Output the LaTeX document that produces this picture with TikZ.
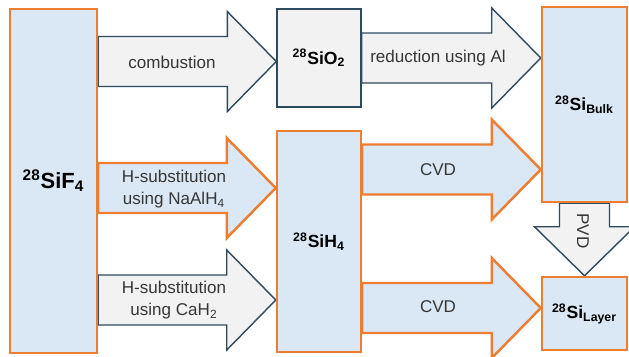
\documentclass[tikz,border=0pt]{standalone}
\usepackage{fontspec}
\setmainfont{Liberation Sans}
\setsansfont{Liberation Sans}
\usetikzlibrary{calc, backgrounds}
\definecolor{cblue}{HTML}{DAE8F5}
\definecolor{corange}{HTML}{ED7D31}
\definecolor{cgrey}{HTML}{F2F2F2}
\definecolor{cslate}{HTML}{2F4A5C}
\definecolor{ctext}{HTML}{363636}
\tikzset{
  every picture/.style={font=\sffamily},
  box/.style={draw=corange, fill=cblue, line width=1.4pt, inner sep=0pt, font=\sffamily\bfseries\fontsize{10}{12}\selectfont},
  greybox/.style={box, draw=cslate, fill=cgrey, line width=0.8pt},
  flow/.style={draw=corange, fill=cblue, line width=1.4pt, line join=miter},
  greyflow/.style={draw=cslate, fill=cgrey, line width=0.8pt, line join=miter},
  note/.style={font=\sffamily\fontsize{9.7}{12.5}\selectfont, text=ctext, align=center},
}
% block arrow from #2 to #3, tip at #3
\newcommand\fatarrow[3][flow]{%
  \coordinate (h) at ($(#3)!0.98cm!(#2)$);
  \draw[#1] ($(#2)!0.5cm!90:(#3)$) -- ($(h)!0.5cm!-90:(#2)$) -- ($(h)!1cm!-90:(#2)$) -- (#3)
    -- ($(h)!1cm!90:(#2)$) -- ($(h)!0.5cm!90:(#2)$) -- ($(#2)!0.5cm!-90:(#3)$) -- cycle;
}

\begin{document}
\begin{tikzpicture}[x=0.02cm, y=-0.02cm]
  \useasboundingbox (0,0) rectangle (629,356);
  \clip (0,0) rectangle (629,356);

  % materials
  \node[box, minimum width=1.74cm, minimum height=6.88cm, font=\sffamily\bfseries\fontsize{12.5}{15}\selectfont]
    (sif) at (53.5,181) {\textsuperscript{28}SiF\textsubscript{4}};
  \node[greybox, minimum width=1.68cm, minimum height=1.96cm] (sio) at (319,58) {\textsuperscript{28}SiO\textsubscript{2}};
  \node[box, minimum width=1.68cm, minimum height=4.42cm] (sih) at (319,241.5) {\textsuperscript{28}SiH\textsubscript{4}};
  \node[box, minimum width=1.70cm, minimum height=3.90cm] (bulk) at (584.5,104.5) {\textsuperscript{28}Si\textsubscript{Bulk}};
  \node[box, minimum width=1.70cm, minimum height=1.46cm] (layer) at (584.5,313.5) {\textsuperscript{28}Si\textsubscript{Layer}};

  % process steps
  \begin{scope}[on background layer]
    \clip (0,0) rectangle (629,356);
    \fatarrow[greyflow]{sif.east |- 0,61.5}{sio.west |- 0,61.5}
    \fatarrow[greyflow]{sio.east}{bulk.west |- sio.east}
    \fatarrow{sif.east |- 0,188}{sih.west |- 0,188}
    \fatarrow[greyflow]{sif.east |- 0,300}{sih.west |- 0,300}
    \fatarrow{sih.east |- 0,169.5}{bulk.west |- 0,169.5}
    \fatarrow{sih.east |- 0,308}{layer.west |- 0,308}
    \fatarrow[greyflow]{bulk.south}{layer.north}
  \end{scope}

  \node[note] (comb) at (172,62) {combustion};
  \node[note] (redu) at (438,58) {reduction using Al};
  \node[note] (subna) at (174,189) {H-substitution\\using NaAlH\textsubscript{4}};
  \node[note] (subca) at (174,300) {H-substitution\\using CaH\textsubscript{2}};
  \node[note] (cvdb) at (438,170) {CVD};
  \node[note] (cvdl) at (438,307) {CVD};
  \node[note, rotate=-90] (pvd) at (583,231) {PVD};
\end{tikzpicture}
\end{document}
